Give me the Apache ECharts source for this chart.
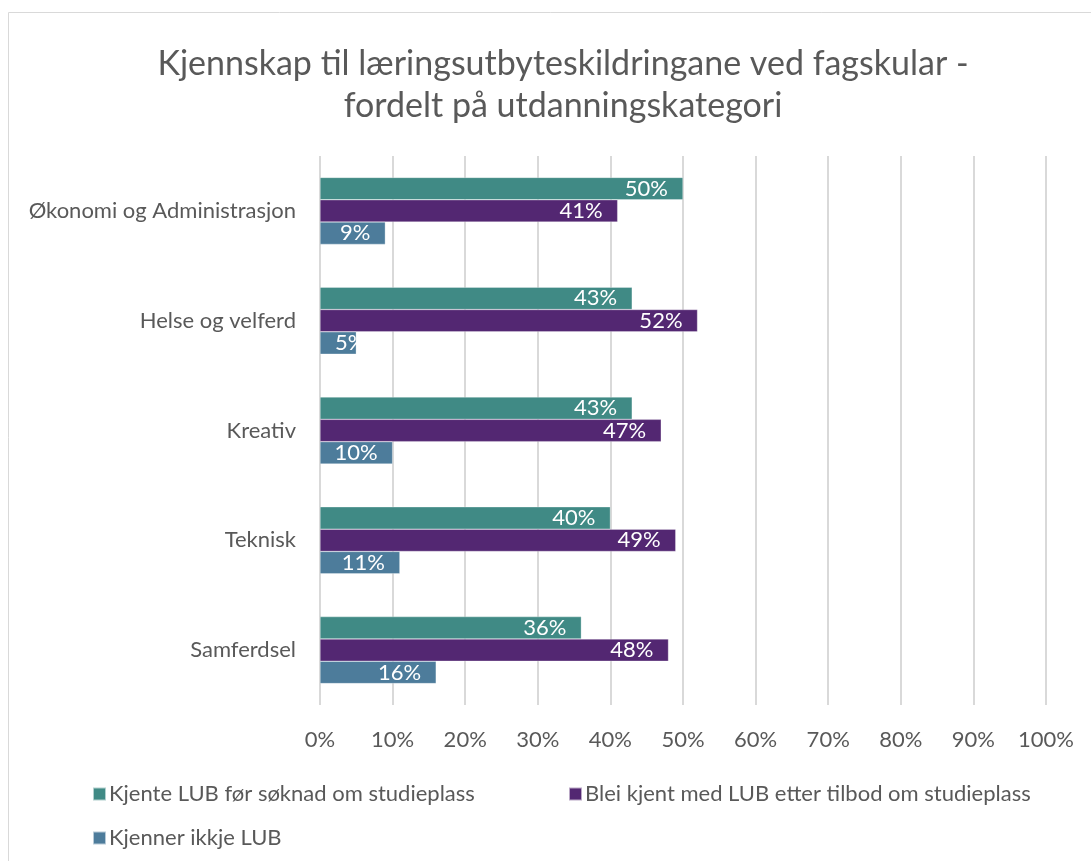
<!DOCTYPE html>
<html><head><meta charset="utf-8">
<script src="https://cdn.jsdelivr.net/npm/echarts@6/dist/echarts.min.js"></script>
<style>html,body{margin:0;padding:0;background:#fff}#c{width:1091px;height:861px}</style>
</head><body><div id="c"></div>
<script>
const categories = ["Økonomi og Administrasjon", "Helse og velferd", "Kreativ", "Teknisk", "Samferdsel"];
const seriesNames = ["Kjente LUB før søknad om studieplass", "Blei kjent med LUB etter tilbod om studieplass", "Kjenner ikkje LUB"];
const kjenteFor = [50, 43, 43, 40, 36];
const bleiKjent = [41, 52, 47, 49, 48];
const kjennerIkkje = [9, 5, 10, 11, 16];
const colors = ["#408A85", "#532772", "#4D7C9B"];
const font = "Lato";

const chart = echarts.init(document.getElementById('c'));
// labels too wide for their bar start at the bar's inner edge (as in the original)
const toItems = data => data.map(v => v < 7 ? { value: v, label: { position: 'insideLeft', distance: 15 } } : v);
const mk = (i, data) => ({
  name: seriesNames[i], type: 'bar', data: toItems(data),
  barGap: '0%', barCategoryGap: '39%',
  itemStyle: { color: colors[i], borderColor: 'rgba(255,255,255,0.6)', borderWidth: 0.5 },
  label: { show: true, position: 'insideRight', distance: 15, color: '#fff', fontSize: 22, fontFamily: font, formatter: '{c}%' }
});
const legendBase = { orient: 'horizontal', itemWidth: 13, itemHeight: 13, itemGap: 6, icon: 'rect',
  textStyle: { color: '#595959', fontSize: 22, fontFamily: font, padding: [0,0,0,-2] } };
chart.setOption({
  animation: false,
  title: { text: 'Kjennskap til læringsutbyteskildringane ved fagskular -\nfordelt på utdanningskategori', left: 558, top: 38, textAlign: 'center',
    textStyle: { color: '#595959', fontSize: 34, fontWeight: 'normal', fontFamily: font, lineHeight: 42 } },
  graphic: [{ type: 'rect', shape: { x: 8.5, y: 12.5, width: 1200, height: 900 }, style: { fill: 'none', stroke: '#d9d9d9', lineWidth: 1 }, z: -1 }],
  grid: { left: 320, top: 156, width: 726, height: 549, containLabel: false },
  xAxis: { type: 'value', min: 0, max: 100, interval: 10,
    axisLabel: { formatter: '{value}%', color: '#595959', fontSize: 22, fontFamily: font, margin: 24 },
    axisLine: { show: false }, axisTick: { show: false },
    splitLine: { lineStyle: { color: '#d9d9d9', width: 2 } } },
  yAxis: { type: 'category', data: categories, inverse: true,
    axisLabel: { color: '#595959', fontSize: 22, fontFamily: font, margin: 24 },
    axisLine: { show: false }, axisTick: { show: false } },
  legend: [
    Object.assign({}, legendBase, { data: [seriesNames[0]], left: 87, top: 778 }),
    Object.assign({}, legendBase, { data: [seriesNames[1]], left: 563, top: 778 }),
    Object.assign({}, legendBase, { data: [seriesNames[2]], left: 87, top: 822 })
  ],
  series: [mk(0, kjenteFor), mk(1, bleiKjent), mk(2, kjennerIkkje)]
});
</script></body></html>
